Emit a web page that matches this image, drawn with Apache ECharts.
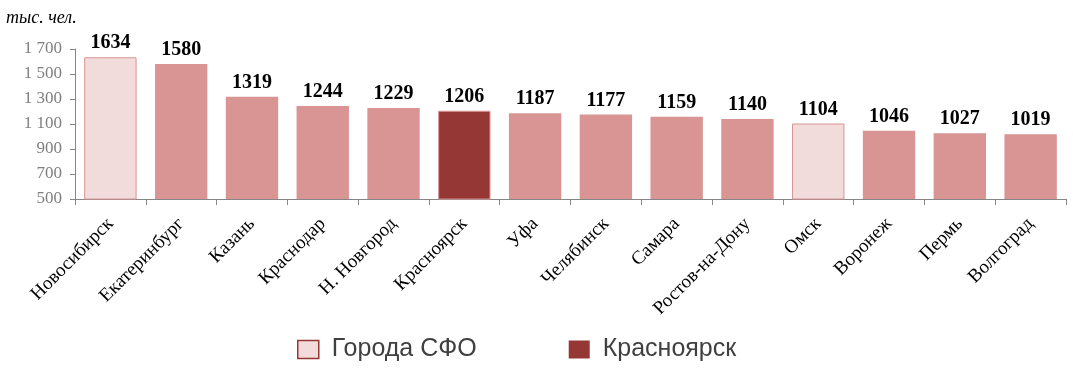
<!DOCTYPE html>
<html><head><meta charset="utf-8">
<script src="https://cdn.jsdelivr.net/npm/echarts@6/dist/echarts.min.js"></script>
<style>html,body{margin:0;padding:0;background:#fff}#c{width:1073px;height:379px}</style>
</head><body><div id="c"></div>
<script>
const categories = ['Новосибирск','Екатеринбург','Казань','Краснодар','Н. Новгород','Красноярск','Уфа','Челябинск','Самара','Ростов-на-Дону','Омск','Воронеж','Пермь','Волгоград'];
const values = [1634,1580,1319,1244,1229,1206,1187,1177,1159,1140,1104,1046,1027,1019];
const groups = ['sfo','other','other','other','other','kras','other','other','other','other','sfo','other','other','other'];
const yTicks = {min:500, max:1700, interval:200};
const legendNames = ['Города СФО','Красноярск'];

const styles = {
  sfo: {color:'#F2DBDB', borderColor:'#D99594', borderWidth:1},
  other: {color:'#D99594', borderColor:'#D99594', borderWidth:0},
  kras: {color:'#953735', borderColor:'#D99594', borderWidth:1}
};
const chart = echarts.init(document.getElementById('c'));
chart.setOption({
  animation:false,
  grid:{left:75, right:7, top:49, bottom:180},
  graphic:[{type:'text', left:6, top:9, style:{text:'тыс. чел.', font:'italic 18px "Liberation Serif"', fill:'#000'}}],
  legend:{
    data:[{name:legendNames[0], itemStyle:{color:'#F2DBDB', borderColor:'#953735', borderWidth:1.5}},
          {name:legendNames[1], itemStyle:{color:'#953735'}}],
    top:332, left:292, itemWidth:21, itemHeight:18, itemGap:92, icon:'rect',
    textStyle:{fontFamily:'Liberation Sans', fontSize:25, color:'#404040', padding:[0,0,0,8]}
  },
  xAxis:{type:'category', data:categories,
    axisLine:{lineStyle:{color:'#868686'}},
    axisTick:{show:true, alignWithLabel:false, length:6, lineStyle:{color:'#868686'}},
    axisLabel:{rotate:45, interval:0, fontFamily:'Liberation Serif', fontSize:19, color:'#000', margin:22}
  },
  yAxis:{type:'value', min:yTicks.min, max:yTicks.max, interval:yTicks.interval,
    axisLine:{show:true, lineStyle:{color:'#868686'}},
    axisTick:{show:true, length:5, lineStyle:{color:'#868686'}},
    splitLine:{show:false},
    axisLabel:{fontFamily:'Liberation Serif', fontSize:17, color:'#7f7f7f', margin:13,
      formatter:v=>{const s=String(v);return s.length>3?s.slice(0,s.length-3)+' '+s.slice(-3):s;}}
  },
  series:[
    {type:'bar', name:'main', barWidth:'74%', barGap:'-100%',
     data:values.map((v,i)=>({value:v, itemStyle:styles[groups[i]]})),
     label:{show:true, position:'top', distance:4, fontFamily:'Liberation Serif', fontWeight:'bold', fontSize:20, color:'#000'}},
    {type:'bar', name:legendNames[0], data:[], barWidth:'74%', barGap:'-100%'},
    {type:'bar', name:legendNames[1], data:[], barWidth:'74%', barGap:'-100%'}
  ]
});
</script></body></html>
